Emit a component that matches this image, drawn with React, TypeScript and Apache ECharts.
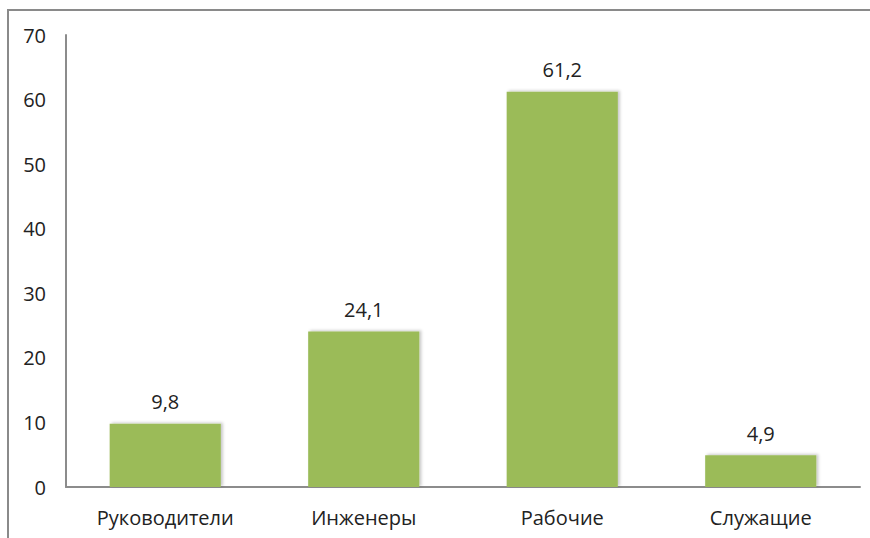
import React, { useEffect, useRef } from "react";
import * as echarts from "echarts";

const categories = ["Руководители", "Инженеры", "Рабочие", "Служащие"];
const values = [9.8, 24.1, 61.2, 4.9];
const yTicks = [0, 10, 20, 30, 40, 50, 60, 70];

const FONT = "'Open Sans', 'Noto Sans', sans-serif";
const TEXT = "#222222";
const FS = 20;

export default function App() {
  const ref = useRef<HTMLDivElement>(null);
  useEffect(() => {
    if (!ref.current) return;
    const chart = echarts.init(ref.current, undefined, { renderer: "svg" });
    chart.setOption({
      animation: false,
      backgroundColor: "#ffffff",
      grid: { left: 66, right: 10, top: 35, bottom: 51, containLabel: false },
      graphic: [
        {
          type: "rect",
          shape: { x: 8, y: 10, width: 900, height: 600 },
          style: { fill: "none", stroke: "#8a8a8a", lineWidth: 2 },
          silent: true,
        },
      ],
      xAxis: {
        type: "category",
        data: categories,
        axisLine: { show: true, lineStyle: { color: "#8c8c8c", width: 2 } },
        axisTick: { show: false },
        axisLabel: { color: TEXT, fontFamily: FONT, fontSize: FS, margin: 20 },
      },
      yAxis: {
        type: "value",
        min: yTicks[0],
        max: yTicks[yTicks.length - 1],
        interval: 10,
        axisLine: { show: true, lineStyle: { color: "#8c8c8c", width: 2 } },
        axisTick: { show: false },
        splitLine: { show: false },
        axisLabel: { color: TEXT, fontFamily: FONT, fontSize: FS, margin: 20 },
      },
      series: [
        {
          type: "bar",
          data: values,
          barWidth: "56%",
          itemStyle: {
            color: "#9BBB59",
            shadowColor: "rgba(0,0,0,0.22)",
            shadowBlur: 3,
            shadowOffsetX: 2,
            shadowOffsetY: -1,
          },
          label: {
            show: true,
            position: "top",
            distance: 12,
            color: TEXT,
            fontFamily: FONT,
            fontSize: FS,
            formatter: (p: any) => String(p.value).replace(".", ","),
          },
        },
      ],
    });
    return () => chart.dispose();
  }, []);
  return (
    <div
      ref={ref}
      style={{ position: "fixed", left: 0, top: 0, width: 870, height: 538 }}
    />
  );
}
